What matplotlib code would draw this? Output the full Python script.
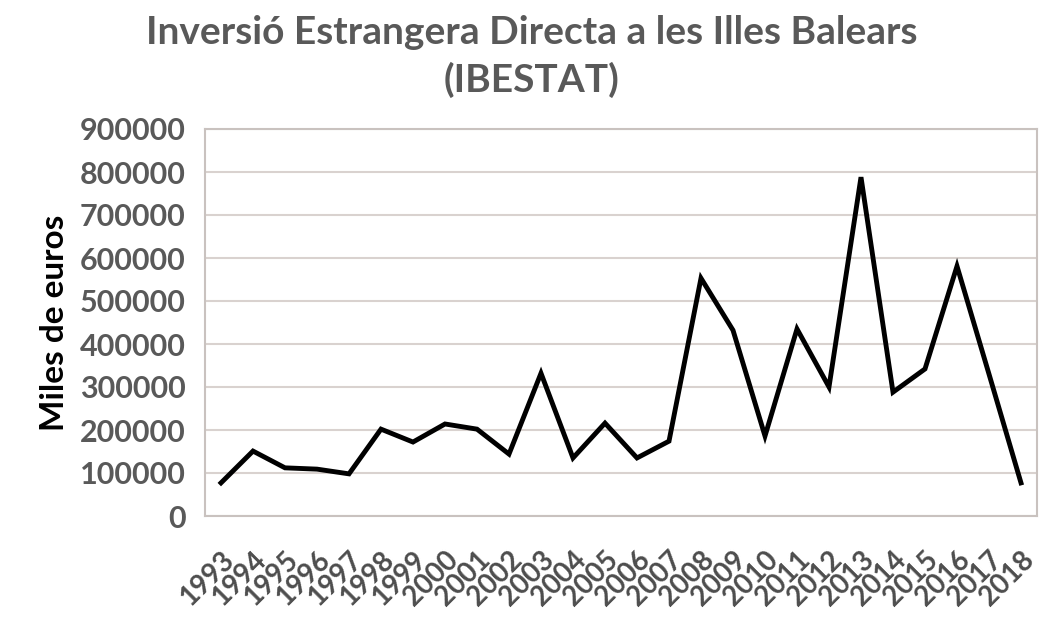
import matplotlib
matplotlib.use('Agg')
import matplotlib.pyplot as plt

years = [str(y) for y in range(1993, 2019)]
inversio = [77000, 151000, 112000, 109000, 98000, 202000, 172000, 214000,
            202000, 144000, 332000, 135000, 216000, 135000, 174000, 553000,
            432000, 186000, 435000, 300000, 788000, 288000, 342000, 581000,
            330000, 77000]
yticks = list(range(0, 900001, 100000))

plt.rcParams['font.family'] = ['Lato', 'DejaVu Sans']

fig = plt.figure(figsize=(10.63, 6.24), dpi=100)
ax = fig.add_axes([205 / 1063, 1 - 516 / 624, 832 / 1063, 387 / 624])

x = range(len(years))
ax.plot(x, inversio, color='black', lw=3.5, solid_joinstyle='miter')
ax.set_xlim(-0.5, len(years) - 0.5)
ax.set_ylim(0, 900000)
ax.set_yticks(yticks)
ax.set_yticklabels([str(v) for v in yticks], fontsize=22, fontweight='bold', color='#595959')
ax.set_xticks(list(x))
ax.set_xticklabels(years, rotation=45, ha='right', rotation_mode='anchor',
                   fontsize=20, fontweight='bold', color='#4d4d4d')
ax.tick_params(axis='y', length=0, pad=14)
ax.tick_params(axis='x', length=0, pad=22)
ax.grid(axis='y', color='#d9d2cf', lw=1.5)
ax.set_axisbelow(True)
for s in ax.spines.values():
    s.set_color('#c9c2bf')
    s.set_linewidth(1.5)

ax.set_ylabel('Miles de euros', fontsize=24, fontweight='bold', color='black', labelpad=8)
fig.text(0.5, 1 - 32 / 624, 'Inversió Estrangera Directa a les Illes Balears',
         ha='center', va='center', fontsize=28, fontweight='bold', color='#595959')
fig.text(0.5, 1 - 80 / 624, '(IBESTAT)', ha='center', va='center',
         fontsize=28, fontweight='bold', color='#595959')

fig.savefig('out.png', dpi=100)
